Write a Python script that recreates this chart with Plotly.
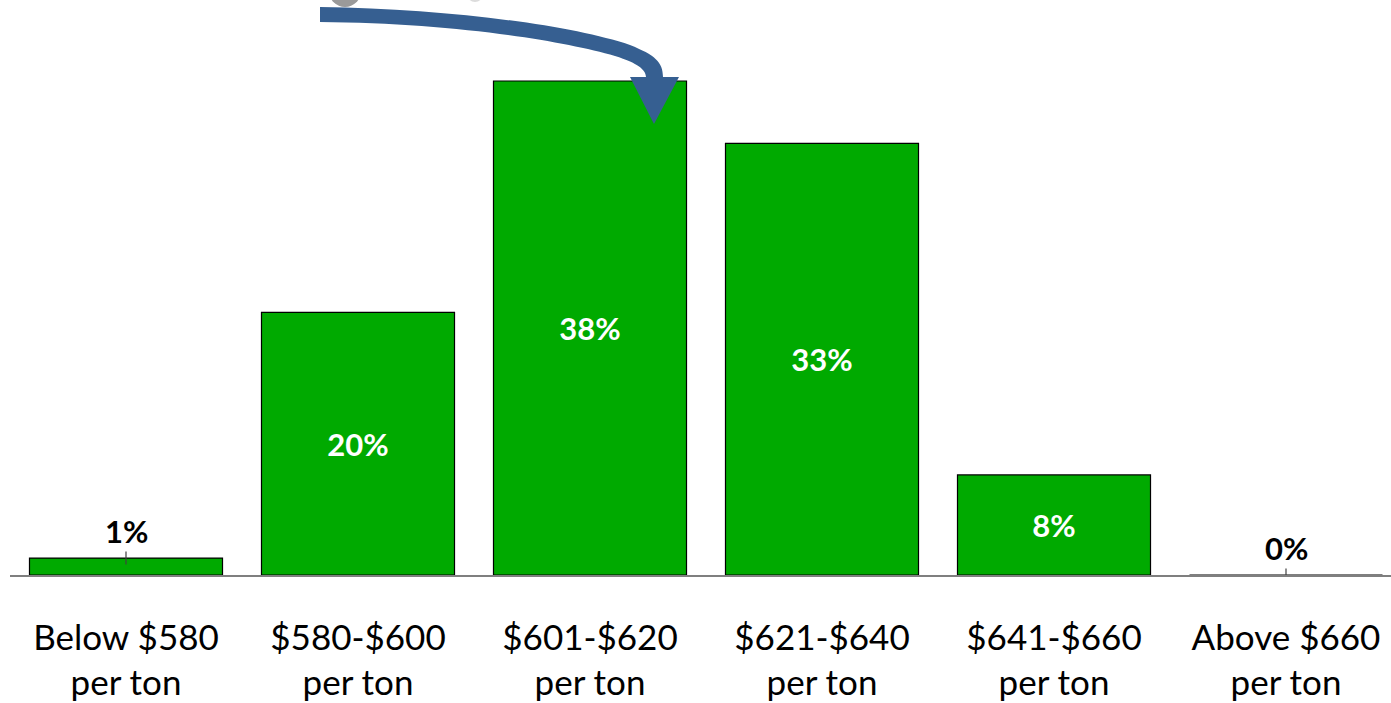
import plotly.graph_objects as go

categories = ["Below $580<br>per ton", "$580-$600<br>per ton", "$601-$620<br>per ton",
              "$621-$640<br>per ton", "$641-$660<br>per ton", "Above $660<br>per ton"]
values = [1.3, 20.2, 38.0, 33.2, 7.7, 0.0]
labels = ["1%", "20%", "38%", "33%", "8%", "0%"]
err = [0.5, 0, 0, 0, 0, 0.5]

W, H = 1391, 703
L, R, T, B = 10, 0, 0, 128
PW, PH = W - L - R, H - T - B
FONT = "Lato"

def px(x, y):
    return (x - L) / PW, (H - B - y) / PH

def path(cmds):
    out = []
    for c in cmds:
        if isinstance(c, str):
            out.append(c)
        else:
            X, Y = px(*c)
            out.append(f"{X:.5f},{Y:.5f}")
    return " ".join(out)

inside = [v >= 5 for v in values]
xs = list(range(len(categories)))

fig = go.Figure()
fig.add_trace(go.Bar(
    x=xs, y=values, width=0.832,
    marker=dict(color="#00AA00", line=dict(color="#000000", width=1.2)),
    text=[t if i else "" for t, i in zip(labels, inside)],
    textposition="inside", insidetextanchor="middle",
    textfont=dict(family=FONT, size=31, color="white", weight="bold"),
    error_y=dict(type="data", array=err, visible=True, width=0, thickness=1.2, color="#404040"),
    cliponaxis=True,
))
for x, v, t, i in zip(xs, values, labels, inside):
    if not i:
        fig.add_annotation(x=x, y=v, text=t, showarrow=False, yanchor="bottom", yshift=6,
                           font=dict(family=FONT, size=31, color="black", weight="bold"))

arrow = path(["M", (320, 7), "C", (450, 9), (570, 25), (630, 45), "C", (655, 55), (663, 62), (663, 77),
              "L", (679, 77), "L", (654, 124), "L", (630, 77), "L", (646, 77),
              "C", (646, 70), (638, 63), (615, 56), "C", (560, 40), (450, 23), (320, 22), "Z"])
shapes = [dict(type="path", xref="paper", yref="paper", path=arrow,
               fillcolor="#365F91", line=dict(width=0), layer="above")]
for (cx, cy, r, col) in [(345, -9, 16, "#9a9a9a"), (475, -6, 8, "#dcdcdc")]:
    x0, y0 = px(cx - r, cy + r)
    x1, y1 = px(cx + r, cy - r)
    shapes.append(dict(type="circle", xref="paper", yref="paper", x0=x0, y0=y0, x1=x1, y1=y1,
                       fillcolor=col, line=dict(width=0), layer="below"))

fig.update_layout(
    width=W, height=H, margin=dict(l=L, r=R, t=T, b=B),
    plot_bgcolor="white", paper_bgcolor="white", showlegend=False,
    shapes=shapes,
    xaxis=dict(range=[-0.5, -0.5 + PW / 232], tickmode="array", tickvals=xs, ticktext=categories,
               showline=True, linecolor="#7f7f7f", linewidth=1.5, ticks="", showgrid=False,
               zeroline=False, ticklabelstandoff=31,
               tickfont=dict(family=FONT, size=35, color="black")),
    yaxis=dict(range=[0, PH / 13.0], visible=False, showgrid=False, zeroline=False),
)
fig.write_html("out.html", config={"displayModeBar": False},
               post_script="document.body.style.margin='0';")
